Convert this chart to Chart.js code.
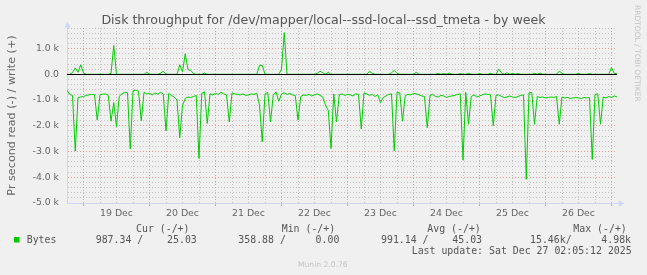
<!DOCTYPE html>
<html>
<head>
<meta charset="utf-8">
<title>Disk throughput - by week</title>
<script src="https://cdn.jsdelivr.net/npm/chart.js@4.4.1/dist/chart.umd.min.js"></script>
<style>
  html, body { margin: 0; padding: 0; background: #F0F0F0; }
  canvas { display: block; }
</style>
</head>
<body>
<canvas id="myChart" width="647" height="275"></canvas>
<script>
// hourly samples, hour 0 = Thu Dec 18 18:00, last = Sat Dec 27 02:00
const readBytes = [
  -620, -780, -820, -2980, -900, -880, -860, -820, -800, -780,
  -790, -1780, -800, -770, -760, -820, -1820, -1100, -2040, -850,
  -760, -700, -720, -2900, -640, -620, -660, -1800, -700, -760,
  -740, -800, -720, -780, -700, -760, -2200, -740, -820, -880,
  -1000, -2470, -1200, -940, -880, -900, -860, -820, -3270, -740,
  -680, -1910, -760, -800, -740, -780, -700, -760, -800, -1850,
  -720, -760, -780, -800, -760, -820, -800, -760, -780, -740,
  -1200, -2620, -760, -700, -1850, -820, -680, -1050, -760, -720,
  -780, -740, -800, -820, -1780, -860, -800, -820, -780, -840,
  -800, -760, -820, -880, -1200, -1400, -2880, -760, -1850, -800,
  -760, -820, -780, -800, -840, -760, -780, -2120, -720, -760,
  -820, -780, -860, -800, -1100, -900, -840, -780, -760, -2980,
  -700, -720, -1820, -820, -780, -800, -740, -760, -800, -840,
  -860, -2080, -820, -780, -860, -880, -820, -840, -900, -860,
  -840, -820, -780, -760, -3330, -700, -1940, -860, -800, -880,
  -840, -800, -760, -780, -800, -2000, -820, -800, -860, -900,
  -880, -840, -880, -900, -860, -820, -800, -4080, -720, -700,
  -1940, -860, -900, -880, -920, -900, -880, -900, -860, -1940,
  -880, -920, -900, -940, -920, -900, -920, -940, -900, -920,
  -900, -3310, -780, -760, -1940, -880, -920, -860, -900, -840,
  -880
];
const writeBytes = [
  0, 0, 60, 250, 80, 370, 60, 0, 0, 0,
  0, 0, 0, 0, 0, 0, 40, 1120, 0, 0,
  0, 0, 0, 0, 0, 0, 0, 0, 0, 80,
  0, 0, 0, 0, 40, 120, 0, 0, 0, 0,
  0, 370, 100, 800, 180, 150, 30, 0, 0, 0,
  50, 0, 0, 0, 0, 0, 0, 0, 0, 0,
  0, 0, 0, 0, 0, 0, 0, 0, 0, 0,
  350, 350, 0, 0, 0, 0, 0, 0, 200, 1620,
  0, 0, 0, 0, 0, 0, 0, 0, 0, 0,
  0, 40, 120, 60, 0, 80, 0, 0, 0, 0,
  0, 0, 0, 0, 0, 0, 0, 0, 0, 0,
  120, 40, 0, 0, 0, 0, 0, 0, 60, 150,
  40, 0, 0, 0, 0, 0, 0, 80, 0, 0,
  0, 0, 0, 0, 0, 40, 0, 30, 0, 50,
  0, 0, 0, 30, 0, 0, 40, 0, 0, 0,
  30, 0, 0, 0, 40, 0, 0, 200, 60, 0,
  60, 0, 40, 0, 30, 0, 0, 0, 0, 0,
  40, 0, 50, 0, 0, 0, 0, 0, 0, 120,
  40, 0, 0, 0, 0, 0, 40, 0, 0, 0,
  30, 0, 0, 0, 0, 0, 0, 0, 260, 40,
  20
];

const dayLabels = ['19 Dec', '20 Dec', '21 Dec', '22 Dec', '23 Dec', '24 Dec', '25 Dec', '26 Dec'];
const dayNoonHours = [18, 42, 66, 90, 114, 138, 162, 186];
const midnightHours = [6, 30, 54, 78, 102, 126, 150, 174, 198];
const gridHours = [0, 6, 12, 18, 24, 30, 36, 42, 48, 54, 60, 66, 72, 78, 84, 90, 96,
  102, 108, 114, 120, 126, 132, 138, 144, 150, 156, 162, 168, 174, 180, 186, 192, 198];

const yTickValues = [1000, 0, -1000, -2000, -3000, -4000, -5000];
const yTickLabels = ['1.0 k', '0.0', '-1.0 k', '-2.0 k', '-3.0 k', '-4.0 k', '-5.0 k'];

const chartTitle = 'Disk throughput for /dev/mapper/local--ssd-local--ssd_tmeta - by week';
const yTitle = 'Pr second read (-) / write (+)';
const seriesName = 'Bytes';
const legendHeaders = ['Cur (-/+)', 'Min (-/+)', 'Avg (-/+)', 'Max (-/+)'];
const legendValues = ['987.34 /    25.03', '358.88 /     0.00', '991.14 /    45.03', '15.46k/     4.98k'];
const lastUpdate = 'Last update: Sat Dec 27 02:05:12 2025';
const muninVersion = 'Munin 2.0.76';
const rrdCredit = 'RRDTOOL / TOBI OETIKER';

const lineColor = '#00CC00';
const axisColor = '#CFD6F8';
const majorGrid = 'rgba(225, 90, 90, 0.55)';
const minorGrid = 'rgba(140, 140, 140, 0.45)';

const muninDecor = {
  id: 'muninDecor',
  afterDatasetsDraw(chart) {
    const { ctx, chartArea: a, scales: { y } } = chart;
    const y0 = Math.round(y.getPixelForValue(0)) + 0.5;
    ctx.save();
    ctx.strokeStyle = '#000';
    ctx.lineWidth = 1;
    ctx.beginPath();
    ctx.moveTo(a.left, y0);
    ctx.lineTo(a.right, y0);
    ctx.stroke();
    ctx.restore();
  },
  afterDraw(chart) {
    const { ctx, chartArea: a } = chart;
    ctx.save();
    // axis arrows
    ctx.fillStyle = axisColor;
    ctx.strokeStyle = axisColor;
    ctx.beginPath();
    ctx.moveTo(a.left + 0.5, a.top);
    ctx.lineTo(a.left + 0.5, a.top - 1);
    ctx.stroke();
    ctx.beginPath();
    ctx.moveTo(a.left - 2.5, a.top - 0.5);
    ctx.lineTo(a.left + 3.5, a.top - 0.5);
    ctx.lineTo(a.left + 0.5, a.top - 6.5);
    ctx.closePath();
    ctx.fill();
    ctx.beginPath();
    ctx.moveTo(a.right, a.bottom + 0.5);
    ctx.lineTo(a.right + 2, a.bottom + 0.5);
    ctx.stroke();
    ctx.beginPath();
    ctx.moveTo(a.right + 2, a.bottom - 2.5);
    ctx.lineTo(a.right + 2, a.bottom + 3.5);
    ctx.lineTo(a.right + 7.5, a.bottom + 0.5);
    ctx.closePath();
    ctx.fill();

    // title
    ctx.fillStyle = '#555';
    ctx.font = '12.6px "DejaVu Sans"';
    ctx.textAlign = 'center';
    ctx.textBaseline = 'alphabetic';
    ctx.fillText(chartTitle, 323.5, 24);

    // vertical axis title
    ctx.fillStyle = '#666';
    ctx.font = '11.2px "DejaVu Sans"';
    ctx.save();
    ctx.translate(14.5, (a.top + a.bottom) / 2);
    ctx.rotate(-Math.PI / 2);
    ctx.fillText(yTitle, 0, 0);
    ctx.restore();

    // rrdtool credit
    ctx.fillStyle = '#c4c4c4';
    ctx.font = '7.5px "DejaVu Sans"';
    ctx.textAlign = 'left';
    ctx.save();
    ctx.translate(635, 5);
    ctx.rotate(Math.PI / 2);
    ctx.fillText(rrdCredit, 0, 0);
    ctx.restore();

    // legend
    ctx.fillStyle = '#555';
    ctx.font = '9.9px "DejaVu Sans Mono"';
    const colX = [136, 281.7, 427.3, 573.3];
    const valX = [95.7, 238.3, 381, 530];
    legendHeaders.forEach((h, i) => ctx.fillText(h, colX[i], 232.3));
    ctx.fillText(seriesName, 26.7, 243.3);
    legendValues.forEach((v, i) => ctx.fillText(v, valX[i], 243.3));
    ctx.fillText(lastUpdate, 411.7, 254);
    ctx.fillStyle = chart.data.datasets[0].borderColor;
    ctx.fillRect(14, 237, 5.5, 5.5);

    // munin version
    ctx.fillStyle = '#c4c4c4';
    ctx.font = '7.6px "DejaVu Sans"';
    ctx.fillText(muninVersion, 298, 267);
    ctx.restore();
  }
};

const ctx = document.getElementById('myChart').getContext('2d');
Chart.defaults.font.family = '"DejaVu Sans"';

const chart = new Chart(ctx, {
  type: 'line',
  data: {
    datasets: [{
      label: seriesName + ' read',
      data: readBytes.map((v, i) => ({ x: i, y: v })),
      borderColor: lineColor,
      borderWidth: 1,
      pointRadius: 0,
      tension: 0
    }, {
      label: seriesName + ' write',
      data: writeBytes.map((v, i) => ({ x: i, y: v })),
      borderColor: lineColor,
      borderWidth: 1,
      pointRadius: 0,
      tension: 0
    }]
  },
  options: {
    responsive: false,
    animation: false,
    devicePixelRatio: 1,
    layout: { padding: { top: 28, right: 30, left: 0, bottom: 0 } },
    plugins: {
      legend: { display: false },
      title: { display: false },
      tooltip: { enabled: false }
    },
    scales: {
      x: {
        type: 'linear',
        min: 0,
        max: 200,
        afterFit: (scale) => { scale.height = 72; },
        afterBuildTicks: (scale) => { scale.ticks = gridHours.map(v => ({ value: v })); },
        ticks: {
          autoSkip: false,
          maxRotation: 0,
          padding: 2,
          color: '#666',
          font: { size: 9.4 },
          callback: (v) => {
            const i = dayNoonHours.indexOf(v);
            return i >= 0 ? dayLabels[i] : '';
          }
        },
        grid: {
          drawTicks: true,
          tickLength: 3,
          lineWidth: 1,
          color: (c) => {
            const v = c.tick ? c.tick.value : null;
            if (v === 0) return 'rgba(0,0,0,0)';
            return midnightHours.includes(v) ? majorGrid : minorGrid;
          },
          tickColor: (c) => (c.tick && midnightHours.includes(c.tick.value)) ? majorGrid : 'rgba(0,0,0,0)'
        },
        border: { display: true, color: axisColor, width: 1, dash: [1, 2] }
      },
      y: {
        min: -5000,
        max: 1800,
        afterFit: (scale) => { scale.width = 67; },
        ticks: {
          stepSize: 200,
          autoSkip: false,
          padding: 8,
          color: '#666',
          font: { size: 9.3 },
          callback: (v) => {
            const i = yTickValues.indexOf(v);
            return i >= 0 ? yTickLabels[i] : '';
          }
        },
        grid: {
          drawTicks: false,
          lineWidth: 1,
          color: (c) => {
            const v = c.tick ? c.tick.value : null;
            if (v === 0 || v === -5000) return 'rgba(0,0,0,0)';
            return (v % 1000 === 0) ? majorGrid : minorGrid;
          }
        },
        border: { display: true, color: axisColor, width: 1, dash: [1, 2] }
      }
    }
  },
  plugins: [muninDecor]
});
</script>
</body>
</html>
